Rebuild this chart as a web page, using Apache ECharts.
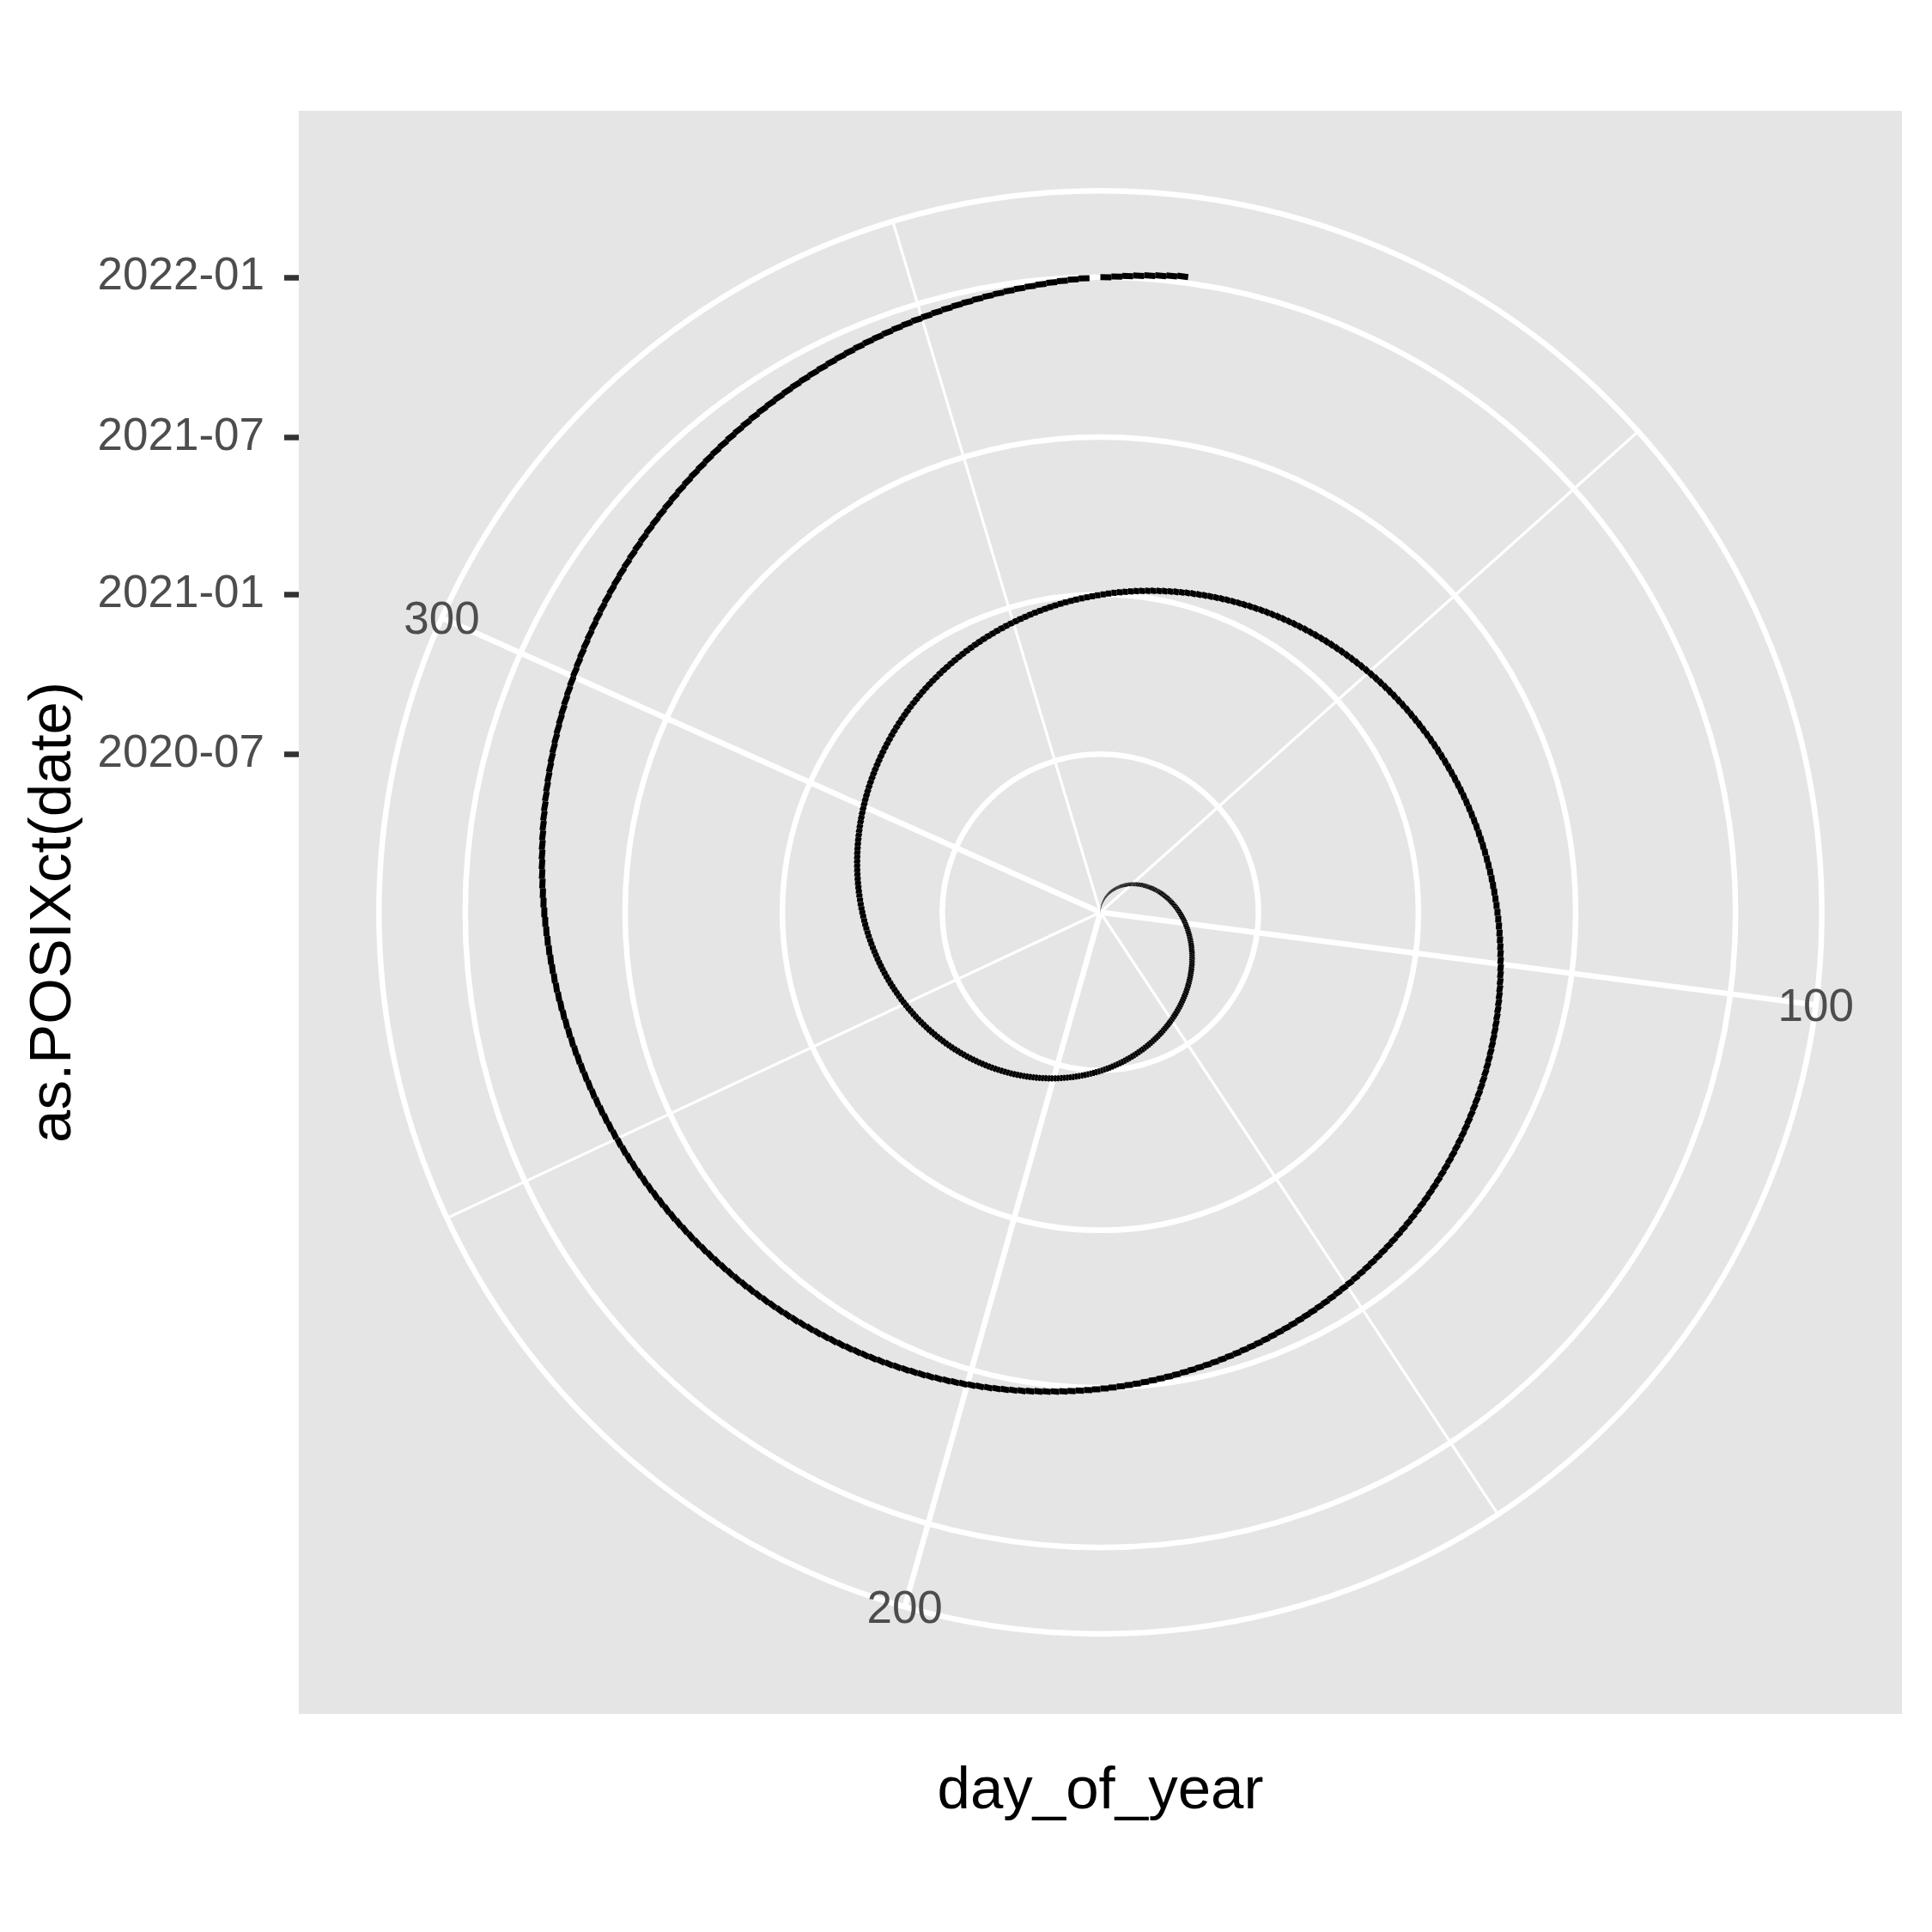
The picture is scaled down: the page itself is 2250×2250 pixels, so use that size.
<!DOCTYPE html>
<html><head><meta charset="utf-8">
<script src="https://cdn.jsdelivr.net/npm/echarts@6/dist/echarts.min.js"></script>
<style>html,body{margin:0;padding:0;background:#fff}#c{width:2250px;height:2250px}</style>
</head><body><div id="c"></div>
<script>
// ---- data ----
const START_DATE = '2020-01-01';   // first daily observation
const END_DATE = '2022-01-08';     // last daily observation
const radiusBreakDates = ['2020-07-01', '2021-01-01', '2021-07-01', '2022-01-01'];
const radiusTickLabels = ['2020-07', '2021-01', '2021-07', '2022-01'];
const thetaMajorBreaks = [100, 200, 300];
const thetaMinorBreaks = [50, 150, 250, 350];
const thetaTickLabels = ['100', '200', '300'];
const thetaRange = [1, 367];       // each day spans [day_of_year, day_of_year + 1]

// ---- derived ----
const DAY = 86400000;
const t0 = Date.parse(START_DATE + 'T00:00:00Z');
const t1 = Date.parse(END_DATE + 'T00:00:00Z');
const toR = s => (Date.parse(s + 'T00:00:00Z') - t0) / DAY;
// one row per day: [date offset (radius), day_of_year (angle)]
const dailyRows = [];
for (let t = t0; t <= t1; t += DAY) {
  const y = new Date(t).getUTCFullYear();
  const doy = Math.round((t - Date.UTC(y, 0, 1)) / DAY) + 1;
  dailyRows.push([Math.round((t - t0) / DAY), doy]);
}
const rDataMax = (t1 - t0) / DAY;
const rAxisMax = rDataMax * 0.45 / 0.4;   // outer ring sits at 0.45 of panel, data at 0.4
const rBreakValues = radiusBreakDates.map(toR);

// ---- layout ----
const PL = 348, PT = 129, PS = 1867;
const CX = PL + PS / 2, CY = PT + PS / 2, ROUT = 0.45 * PS;
const FONT = 'Liberation Sans, Arial, Helvetica, sans-serif';

const chart = echarts.init(document.getElementById('c'), null, {renderer: 'canvas'});

function ringItem(params, api) {
  const cs = params.coordSys;
  const p = api.coord([api.value(0), api.value(1)]);
  const rr = Math.hypot(p[0] - cs.cx, p[1] - cs.cy);
  return {type: 'circle', shape: {cx: cs.cx, cy: cs.cy, r: rr},
          style: {fill: 'none', stroke: '#ffffff', lineWidth: 6.5}};
}
function spokeItem(width) {
  return function (params, api) {
    const cs = params.coordSys;
    const p = api.coord([api.value(0), api.value(1)]);
    return {type: 'line', shape: {x1: cs.cx, y1: cs.cy, x2: p[0], y2: p[1]},
            style: {stroke: '#ffffff', lineWidth: width}};
  };
}
function daySegment(params, api) {
  const r = api.value(0), d = api.value(1);
  const p0 = api.coord([r, d]), p1 = api.coord([r, d + 1]);
  return {type: 'line', shape: {x1: p0[0], y1: p0[1], x2: p1[0], y2: p1[1]},
          style: {stroke: '#000000', lineWidth: 7, lineCap: 'butt'}};
}

const series = [
  {type: 'custom', coordinateSystem: 'polar', renderItem: ringItem, z: 1, silent: true,
   data: rBreakValues.concat([rAxisMax]).map(r => [r, thetaRange[0]])},
  {type: 'custom', coordinateSystem: 'polar', renderItem: spokeItem(3.2), z: 1, silent: true,
   data: thetaMinorBreaks.map(d => [rAxisMax, d])},
  {type: 'custom', coordinateSystem: 'polar', renderItem: spokeItem(6.5), z: 1, silent: true,
   data: thetaMajorBreaks.map(d => [rAxisMax, d])},
  {type: 'custom', coordinateSystem: 'polar', renderItem: daySegment, z: 5, silent: true,
   progressive: 0, data: dailyRows},
  {type: 'custom', coordinateSystem: 'polar', z: 8, silent: true,
   data: thetaMajorBreaks.map((d, i) => [rAxisMax, d, i]),
   renderItem: function (params, api) {
     const p = api.coord([api.value(0), api.value(1)]);
     return {type: 'text', x: p[0], y: p[1] + 4,
       style: {text: thetaTickLabels[api.value(2)], fontSize: 53, fontFamily: FONT,
               fill: '#4D4D4D', align: 'center', verticalAlign: 'middle'}};
   }},
  // carrier for the cartesian r-axis drawn on the left
  {type: 'line', xAxisIndex: 0, yAxisIndex: 0, data: [], silent: true}
];

chart.setOption({
  animation: false,
  backgroundColor: '#ffffff',
  polar: {center: [CX, CY], radius: [0, ROUT]},
  angleAxis: {type: 'value', min: thetaRange[0], max: thetaRange[1], startAngle: 90, clockwise: true,
    axisLine: {show: false}, axisTick: {show: false}, axisLabel: {show: false}, splitLine: {show: false}},
  radiusAxis: {type: 'value', min: 0, max: rAxisMax,
    axisLine: {show: false}, axisTick: {show: false}, axisLabel: {show: false}, splitLine: {show: false}},
  grid: {left: PL, top: CY - ROUT, height: ROUT, width: PS, show: false},
  xAxis: {type: 'value', show: false, min: 0, max: 1},
  yAxis: {type: 'value', min: 0, max: rAxisMax,
    axisLine: {show: false}, splitLine: {show: false},
    axisTick: {show: true, customValues: rBreakValues, length: 17,
      lineStyle: {color: '#333333', width: 6.5}},
    axisLabel: {show: true, customValues: rBreakValues, margin: 40, fontSize: 53, fontFamily: FONT,
      color: '#4D4D4D',
      formatter: v => { const i = rBreakValues.findIndex(b => Math.abs(b - v) < 1e-6); return i >= 0 ? radiusTickLabels[i] : ''; }}},
  graphic: {elements: [
    {type: 'rect', z: -10, silent: true, shape: {x: PL, y: PT, width: PS, height: PS}, style: {fill: '#E5E5E5'}},
    {type: 'text', x: 63, y: CY, rotation: Math.PI / 2, silent: true,
     style: {text: 'as.POSIXct(date)', fontSize: 69, fontFamily: FONT, fill: '#000000', align: 'center', verticalAlign: 'middle'}},
    {type: 'text', x: CX, y: 2087, silent: true,
     style: {text: 'day_of_year', fontSize: 69, fontFamily: FONT, fill: '#000000', align: 'center', verticalAlign: 'middle'}}
  ]},
  series: series
});
</script></body></html>
